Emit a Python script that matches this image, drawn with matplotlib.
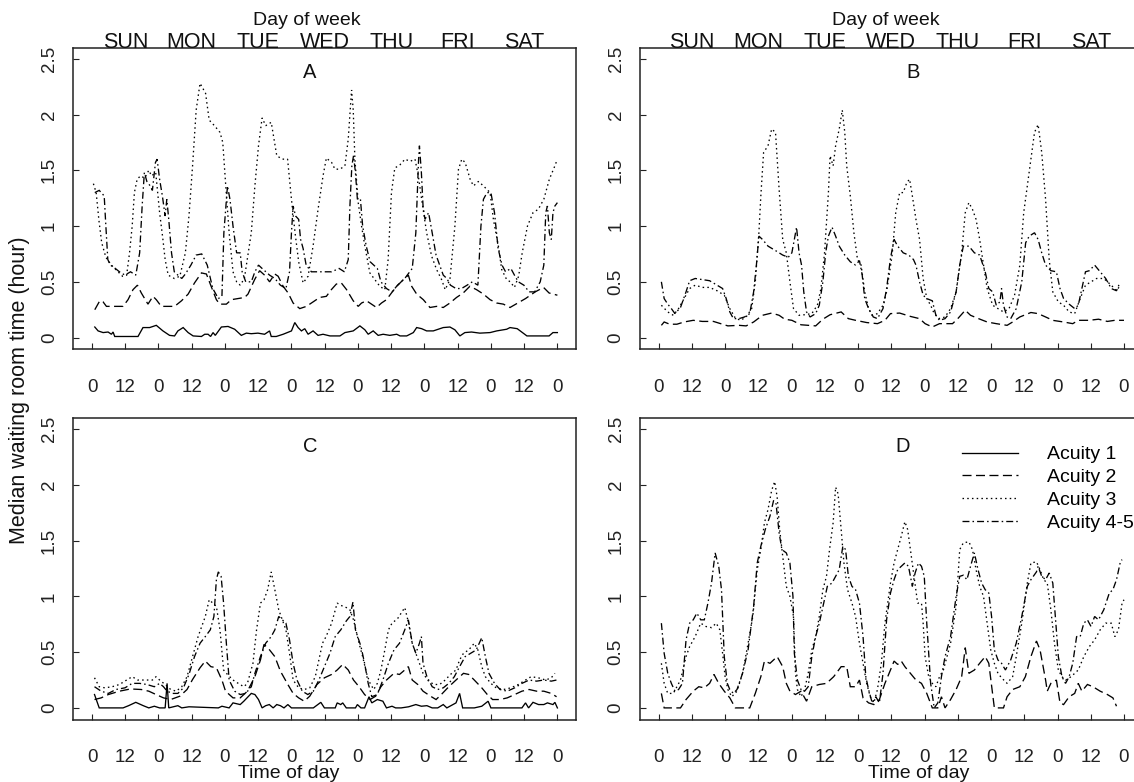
import matplotlib
matplotlib.use("Agg")
import matplotlib.pyplot as plt
from matplotlib.lines import Line2D

plt.rcParams['font.family'] = ['Liberation Sans', 'DejaVu Sans']
plt.rcParams['lines.scale_dashes'] = False

# ---------------- data: (hour of week, median waiting time in hours) ----------------
hour_ticks = list(range(0, 169, 12))
hour_labels = ['0', '12'] * 7 + ['0']
y_ticks = [0, 0.5, 1, 1.5, 2, 2.5]
y_labels = ['0', '0.5', '1', '1.5', '2', '2.5']
days = ['SUN', 'MON', 'TUE', 'WED', 'THU', 'FRI', 'SAT']
day_pos = [12, 36, 60, 84, 108, 132, 156]
series_names = ['Acuity 1', 'Acuity 2', 'Acuity 3', 'Acuity 4-5']

A_acuity1 = [(1.0,0.095),(2.2,0.06),(4.0,0.045),(5.8,0.05),(7.0,0.03),(7.6,0.05),(8.2,0.01),(16.6,0.01),(18.4,0.09),(20.8,0.09),(23.2,0.11),(25.6,0.06),(28.0,0.02),(29.8,0.015),(31.0,0.06),(32.9,0.09),(34.7,0.045),(36.5,0.015),(39.5,0.01),(40.7,0.03),(41.9,0.03),(42.8,0.01),(43.7,0.045),(44.5,0.02),(46.7,0.095),(49.1,0.1),(51.5,0.075),(53.9,0.02),(55.7,0.04),(57.5,0.035),(59.9,0.04),(62.3,0.03),(64.1,0.06),(64.7,0.01),(66.5,0.01),(69.0,0.03),(72.0,0.06),(73.2,0.135),(74.4,0.09),(75.6,0.06),(76.8,0.08),(78.0,0.03),(79.8,0.06),(81.6,0.02),(83.4,0.03),(85.9,0.015),(89.5,0.015),(91.3,0.045),(94.3,0.06),(96.7,0.105),(98.5,0.07),(99.7,0.03),(101.5,0.06),(103.3,0.02),(105.1,0.03),(107.5,0.02),(110.0,0.03),(111.2,0.015),(113.6,0.015),(116.0,0.045),(117.2,0.09),(119.0,0.08),(120.8,0.06),(123.2,0.06),(125.0,0.075),(126.8,0.09),(129.2,0.095),(131.0,0.07),(132.8,0.015),(134.6,0.045),(137.0,0.05),(140.0,0.04),(143.7,0.045),(146.1,0.06),(149.7,0.075),(150.9,0.09),(153.5,0.08),(157.0,0.015),(165.0,0.015),(166.4,0.045),(168.0,0.045)]
A_acuity2 = [(1,0.25),(2.8,0.33),(4,0.32),(5.2,0.28),(8.2,0.28),(11.2,0.28),(13,0.34),(14.8,0.43),(16.4,0.47),(17.8,0.4),(20.2,0.3),(22,0.37),(23.2,0.34),(25,0.28),(29.8,0.28),(32.3,0.33),(34.7,0.39),(37,0.49),(39.5,0.58),(41.3,0.57),(43,0.46),(44.9,0.34),(46.1,0.3),(48.5,0.3),(50.3,0.34),(52.7,0.35),(55.1,0.36),(56.3,0.39),(58.7,0.52),(60.5,0.6),(62.3,0.56),(64.1,0.5),(66,0.57),(67.2,0.55),(69,0.46),(70.8,0.4),(72.6,0.31),(75,0.26),(77.4,0.28),(79.8,0.32),(82.2,0.36),(84.6,0.37),(86.4,0.43),(88.2,0.48),(90,0.49),(91.9,0.43),(94.3,0.33),(96.1,0.28),(97.3,0.31),(99.1,0.33),(100.9,0.3),(102.7,0.27),(104.5,0.31),(106.3,0.34),(108.1,0.4),(110,0.46),(112.4,0.52),(114.2,0.56),(115.4,0.46),(117.2,0.39),(119.6,0.34),(122,0.27),(124.4,0.28),(126.8,0.27),(129.2,0.31),(131.6,0.36),(134,0.4),(136.4,0.46),(138.8,0.43),(141.3,0.39),(143.7,0.34),(146.1,0.31),(148.5,0.3),(150.9,0.27),(153,0.3),(156.5,0.35),(160,0.41),(163,0.45),(165,0.4),(168,0.38)]
A_acuity3 = [(0.5,1.38),(1.5,1.3),(2.5,1.05),(3.5,0.85),(5,0.72),(7,0.65),(9,0.6),(11,0.55),(12.5,0.56),(13.5,0.75),(14.5,1.0),(15.3,1.3),(16.3,1.42),(17.5,1.45),(19,1.43),(20.5,1.5),(21.5,1.45),(23,1.48),(24.4,1.12),(25.5,0.9),(26.4,0.7),(27.5,0.56),(29.7,0.53),(31.7,0.55),(33.7,0.76),(35,1.09),(36.3,1.54),(37.6,2.04),(39,2.28),(41,2.19),(42.3,1.95),(44.2,1.9),(46.2,1.84),(47.2,1.75),(48.2,1.39),(49.5,0.94),(50.9,0.59),(52.2,0.5),(53.5,0.47),(55,0.53),(57.5,0.94),(58.8,1.36),(60.1,1.72),(61.4,1.97),(62.7,1.9),(64.7,1.93),(66.7,1.63),(68.7,1.6),(70.6,1.6),(72,1.24),(73.3,0.94),(74.6,0.68),(76.2,0.49),(78,0.55),(79.8,0.82),(81.6,1.15),(83.4,1.45),(84.6,1.61),(86.5,1.57),(87.7,1.51),(89.5,1.51),(91.3,1.54),(92.5,1.78),(93.7,2.22),(94.3,2.04),(94.9,1.6),(96.1,1.21),(97.3,1.0),(98.5,0.82),(100.3,0.58),(102.1,0.52),(103.9,0.46),(105.7,0.43),(106.9,0.7),(108.1,1.3),(109.3,1.52),(111.2,1.55),(113,1.6),(114.8,1.58),(116.6,1.6),(117.8,1.45),(119,1.24),(120.8,0.94),(122.6,0.73),(124.4,0.61),(126.2,0.52),(127.5,0.43),(129.2,0.52),(131,1.0),(132.3,1.51),(133.5,1.6),(134.7,1.57),(136.5,1.42),(137.7,1.36),(139.5,1.4),(141.3,1.36),(143.7,1.3),(144.9,1.06),(146.7,0.82),(147.9,0.61),(149.7,0.52),(151,0.5),(152.5,0.45),(154,0.55),(155.3,0.76),(157.2,1.0),(159.2,1.12),(161.1,1.15),(163.1,1.24),(165.1,1.42),(167.1,1.54),(168,1.6)]
A_acuity45 = [(1,1.3),(2.6,1.32),(4.4,1.27),(5,1.0),(5.7,0.7),(6.6,0.65),(7.9,0.63),(9.9,0.59),(11.9,0.56),(13.9,0.59),(15.8,0.56),(17.2,0.76),(18.1,1.18),(18.9,1.48),(19.8,1.4),(21,1.36),(21.8,1.32),(22.9,1.57),(23.5,1.6),(24.4,1.42),(25.4,1.27),(26.4,1.09),(27,1.24),(27.7,1.06),(28.7,0.76),(29.7,0.59),(31,0.56),(32.4,0.53),(33.7,0.57),(35.7,0.65),(37.6,0.74),(39.6,0.75),(41.6,0.65),(43.6,0.44),(45.6,0.35),(46.9,0.37),(47.6,0.94),(48.9,1.36),(49.8,1.24),(50.9,1.0),(52.2,0.76),(53.5,0.76),(54.2,0.59),(55.5,0.5),(57.5,0.5),(58.8,0.59),(60.1,0.65),(61.4,0.62),(64.1,0.56),(66,0.53),(68,0.47),(70,0.44),(71.3,0.59),(72,0.94),(72.6,1.18),(73.5,1.09),(74.6,1.06),(75.3,0.88),(76.2,0.8),(77.3,0.65),(79.2,0.59),(82.6,0.59),(86.5,0.59),(89.2,0.62),(91.1,0.59),(92.5,0.7),(93.1,1.18),(93.8,1.54),(94.4,1.63),(95.1,1.48),(95.8,1.24),(96.9,1.24),(97.7,1.0),(99,0.82),(100.4,0.68),(101.7,0.65),(103,0.62),(104.3,0.5),(106.3,0.44),(108.3,0.41),(110.3,0.47),(112.9,0.53),(115.6,0.62),(116.9,0.94),(117.9,1.6),(118.2,1.72),(118.9,1.48),(119.5,1.18),(120.2,1.06),(121.5,1.12),(122.8,0.94),(124.2,0.74),(125.5,0.65),(126.8,0.56),(128.1,0.53),(129.4,0.47),(131.4,0.44),(133.4,0.44),(135.4,0.47),(137.3,0.5),(139.3,0.47),(140.4,1.0),(141.3,1.24),(142.6,1.3),(144,1.3),(145.3,1.12),(146.6,0.8),(148,0.65),(149.3,0.59),(151.2,0.62),(152.5,0.56),(153.9,0.5),(155.9,0.47),(157.8,0.41),(159.8,0.41),(161.8,0.5),(163.1,0.65),(163.8,1.12),(164.4,1.18),(165.1,0.94),(165.8,0.88),(166.4,1.12),(167.1,1.18),(168,1.21)]

B_acuity2 = [(1,0.11),(2,0.14),(4,0.12),(6.6,0.12),(9.2,0.14),(12.5,0.155),(15.8,0.145),(19.8,0.145),(22.4,0.125),(25,0.105),(29,0.11),(31.6,0.105),(34.3,0.14),(37.5,0.2),(40.8,0.22),(43.5,0.2),(45.5,0.165),(48.1,0.155),(51.4,0.115),(56.7,0.105),(59.3,0.165),(61.9,0.205),(65.9,0.23),(68.5,0.17),(71.1,0.155),(75.1,0.135),(79,0.125),(81.7,0.155),(83.7,0.215),(87,0.22),(90.9,0.19),(94.2,0.17),(96.2,0.125),(98.8,0.095),(101.4,0.125),(106.1,0.125),(108,0.17),(110.7,0.245),(112.6,0.2),(116,0.165),(118.6,0.14),(121.9,0.125),(125.8,0.11),(127.8,0.14),(130.4,0.185),(134.4,0.225),(137,0.215),(139.7,0.185),(141,0.17),(142.2,0.155),(146.2,0.14),(149.5,0.125),(151.5,0.155),(155.5,0.155),(158.8,0.165),(162,0.145),(164.7,0.155),(168,0.155)]
B_acuity3 = [(1,0.29),(3.3,0.23),(5.3,0.2),(7.2,0.26),(9.2,0.35),(11.2,0.44),(13.2,0.47),(15.8,0.45),(18.4,0.45),(21.1,0.42),(23.7,0.38),(25.7,0.26),(27.7,0.175),(29.6,0.155),(31.6,0.185),(33.6,0.26),(34.9,0.5),(36.2,0.94),(36.9,1.27),(37.9,1.66),(39.5,1.72),(40.8,1.87),(42.2,1.84),(43.5,1.33),(44.8,0.88),(46.1,0.76),(47.4,0.5),(48.7,0.26),(50.7,0.2),(52.7,0.205),(55.3,0.215),(57.3,0.29),(58.6,0.44),(59.9,0.76),(61.3,1.3),(61.9,1.63),(63,1.54),(63.9,1.72),(65.2,1.87),(66.3,2.04),(67.2,1.84),(67.9,1.54),(69.2,1.27),(70.5,0.94),(71.8,0.7),(73.1,0.65),(74.4,0.41),(75.8,0.26),(77.1,0.2),(79,0.215),(81,0.29),(82.3,0.41),(84.3,0.74),(85.6,1.12),(87,1.3),(88.3,1.3),(89.6,1.39),(90.6,1.42),(91.6,1.27),(92.9,1.06),(94.2,0.88),(95.5,0.53),(96.8,0.35),(98.2,0.29),(99.5,0.215),(101.4,0.17),(103.4,0.185),(105.4,0.26),(107.4,0.41),(109.4,0.76),(110.7,1.12),(112,1.21),(113.3,1.15),(114.6,1.06),(115.9,0.88),(117.3,0.65),(118.6,0.44),(120.6,0.29),(122.5,0.26),(124.5,0.23),(126.5,0.26),(128.5,0.38),(130.4,0.65),(131.8,1.12),(133.1,1.36),(134.4,1.6),(135.7,1.84),(137,1.91),(138.3,1.66),(139.7,1.24),(141,0.7),(142.3,0.41),(144.3,0.32),(146.2,0.29),(148.2,0.23),(150.2,0.215),(152.2,0.35),(154.1,0.47),(156.1,0.5),(158.1,0.53),(160.7,0.53),(163.4,0.47),(165.3,0.42),(166.7,0.47)]
B_acuity45 = [(1,0.5),(2,0.35),(3.3,0.3),(4.6,0.26),(5.9,0.215),(7.9,0.27),(9.9,0.41),(11.2,0.51),(13.2,0.53),(15.8,0.52),(18.4,0.51),(21.1,0.47),(23.1,0.44),(24.4,0.35),(25.7,0.23),(27,0.17),(29,0.17),(31,0.185),(32.9,0.215),(34.3,0.41),(35.3,0.65),(36.2,0.91),(37.5,0.88),(39.5,0.82),(42.2,0.78),(44.8,0.74),(46.8,0.72),(48.1,0.76),(49,0.88),(49.8,0.99),(50.7,0.76),(51.6,0.65),(52.4,0.41),(53.4,0.23),(54.7,0.185),(56.7,0.215),(58,0.29),(59.3,0.5),(60.3,0.76),(61.3,0.91),(62.6,0.99),(63.9,0.91),(65.2,0.82),(67.2,0.74),(69.2,0.68),(71.1,0.65),(72.5,0.69),(73.5,0.56),(74.4,0.35),(75.8,0.26),(77.5,0.185),(79,0.17),(81,0.26),(82.3,0.44),(83.7,0.71),(85,0.88),(86.3,0.82),(88.3,0.76),(90.3,0.74),(92,0.7),(92.9,0.65),(94.2,0.5),(95.5,0.38),(96.8,0.35),(98.8,0.33),(100.1,0.2),(101.4,0.155),(103.4,0.17),(105.4,0.23),(107.4,0.41),(108.7,0.65),(110,0.82),(112,0.82),(114,0.76),(115.9,0.74),(117.9,0.59),(119.2,0.44),(120.6,0.41),(121.9,0.29),(123.2,0.32),(123.8,0.44),(124.5,0.29),(125.8,0.185),(127.1,0.17),(129.1,0.26),(131.1,0.5),(132.5,0.85),(133.8,0.91),(135.7,0.94),(137,0.88),(138.3,0.76),(139.7,0.65),(141.6,0.6),(143.6,0.59),(144.9,0.44),(146.2,0.35),(148.2,0.3),(150.2,0.26),(151.5,0.29),(152.8,0.44),(154.1,0.59),(155.5,0.6),(157.4,0.65),(159.4,0.59),(161.4,0.53),(163.4,0.44),(165.3,0.42),(166.3,0.48)]

C_acuity1 = [(0.9,0.12),(2.6,0.0),(11.2,0.0),(13.2,0.02),(15.8,0.05),(18.5,0.02),(20.5,0.0),(22.5,0.015),(24.4,0.0),(26.4,0.0),(27.1,0.22),(27.7,0.0),(31.0,0.02),(32.4,0.0),(35,0.01),(45.6,0.0),(46.9,0.015),(49.5,0.0),(50.9,0.045),(53.5,0.03),(54.8,0.06),(57.5,0.13),(58.8,0.12),(60.1,0.075),(61.4,0.0),(62.7,0.02),(64.0,0.03),(65.4,0.0),(66.7,0.03),(68.0,0.02),(69.3,0.0),(70.7,0.03),(72.0,0.0),(79.9,0.0),(82.6,0.05),(83.9,0.0),(87.8,0.0),(88.5,0.045),(89.8,0.03),(90.5,0.045),(91.8,0.0),(95.1,0.0),(95.8,0.03),(97.1,0.0),(98.4,0.0),(100.0,0.1),(101.0,0.045),(103.0,0.075),(105.0,0.06),(106.3,0.0),(108.3,0.015),(109.6,0.0),(111.6,0.0),(114.3,0.01),(116.9,0.03),(118.9,0.015),(120.9,0.02),(122.8,0.0),(124.8,0.0),(126.8,0.03),(128.1,0.0),(131.4,0.045),(132.7,0.13),(133.8,0.0),(138.0,0.0),(140.7,0.015),(143.0,0.06),(144.0,0.0),(155.2,0.0),(156.5,0.045),(157.6,0.0),(159.2,0.05),(161.2,0.03),(163.1,0.03),(164.4,0.045),(166.4,0.03),(167.1,0.05),(168.0,0.0)]
C_acuity2 = [(0.9,0.075),(3.3,0.09),(5.9,0.12),(9.9,0.15),(13.9,0.17),(17.8,0.165),(20.5,0.15),(23.1,0.12),(25.8,0.09),(28.4,0.075),(31.7,0.105),(34.3,0.165),(36.3,0.255),(39,0.36),(40.9,0.42),(42.9,0.37),(44.9,0.36),(46.9,0.25),(48.2,0.15),(50.9,0.09),(53.5,0.09),(56.1,0.15),(58.8,0.28),(60.8,0.43),(62.1,0.57),(64.1,0.52),(66,0.46),(68,0.33),(70.7,0.21),(72.6,0.13),(74.6,0.09),(76.6,0.06),(78.6,0.105),(81.2,0.21),(83.9,0.27),(86.5,0.3),(88.5,0.34),(90.5,0.39),(92.5,0.34),(94.4,0.25),(96.4,0.19),(98.4,0.12),(100.4,0.075),(102.4,0.105),(104.3,0.19),(106.3,0.25),(109,0.31),(111,0.3),(112.9,0.34),(114.2,0.37),(115.6,0.25),(117.6,0.21),(119.5,0.15),(122.2,0.105),(124.2,0.075),(126.1,0.12),(128.8,0.19),(131.4,0.25),(134.1,0.31),(136,0.3),(138,0.25),(140.7,0.18),(142.7,0.12),(144.6,0.075),(147.3,0.075),(149.9,0.09),(152.6,0.12),(155.2,0.15),(157.8,0.165),(160.5,0.15),(163.1,0.15),(165.8,0.13),(167.7,0.1)]
C_acuity3 = [(0.9,0.27),(2.6,0.19),(4.6,0.18),(7.3,0.19),(9.9,0.21),(12.5,0.25),(14.5,0.28),(16.5,0.25),(19.2,0.25),(21.8,0.25),(23.1,0.28),(24.4,0.25),(26.4,0.21),(28.4,0.165),(30.4,0.15),(32.4,0.19),(34.3,0.28),(36.3,0.46),(38.3,0.64),(39.6,0.73),(40.9,0.82),(42.3,0.97),(43.6,0.94),(44.9,0.91),(46.2,0.7),(47.5,0.34),(48.9,0.3),(50.9,0.25),(52.8,0.22),(54.8,0.19),(56.1,0.22),(58.1,0.4),(59.4,0.7),(60.8,0.94),(62.1,0.97),(63.4,1.06),(64.7,1.22),(66,1.06),(67.4,0.88),(68.7,0.79),(70,0.7),(71.3,0.49),(72.6,0.25),(74.6,0.18),(76.6,0.165),(78.6,0.18),(80.6,0.28),(81.9,0.43),(83.2,0.58),(84.5,0.64),(86.5,0.76),(88.5,0.94),(89.8,0.92),(91.8,0.9),(93.1,0.88),(94.4,0.79),(96.4,0.58),(97.7,0.46),(99.1,0.31),(100.4,0.22),(101.7,0.165),(103,0.22),(104.3,0.34),(105.7,0.52),(107,0.7),(108.3,0.76),(110.3,0.8),(111.6,0.85),(112.9,0.9),(114.3,0.76),(115.6,0.58),(116.9,0.49),(118.2,0.4),(119.5,0.31),(121.5,0.24),(123.5,0.21),(125.5,0.21),(127.5,0.25),(129.4,0.3),(131.4,0.34),(132.7,0.43),(134.1,0.49),(136,0.52),(138,0.58),(139.3,0.52),(140.7,0.37),(142,0.28),(144,0.22),(145.9,0.18),(148.6,0.165),(151.2,0.18),(153.9,0.21),(156.5,0.25),(158.5,0.28),(161.1,0.27),(163.8,0.25),(165.8,0.27),(167.1,0.31)]
C_acuity45 = [(0.9,0.19),(3.3,0.15),(5.9,0.13),(8.6,0.165),(11.9,0.18),(14.5,0.22),(17.2,0.22),(19.8,0.21),(22.5,0.19),(24.4,0.22),(25.8,0.19),(27.1,0.15),(29.1,0.13),(31,0.13),(33,0.18),(35,0.3),(37,0.46),(39,0.58),(40.9,0.64),(42.7,0.7),(44,0.82),(44.9,1.15),(45.6,1.22),(46.6,1.18),(47.5,0.94),(48.5,0.58),(49.5,0.25),(51.5,0.15),(53.5,0.12),(55.5,0.13),(57.5,0.19),(58.8,0.31),(60.8,0.46),(62.7,0.58),(64.7,0.64),(66,0.7),(67.4,0.82),(68.7,0.79),(70,0.76),(71.3,0.61),(72.6,0.4),(74,0.25),(75.9,0.15),(77.9,0.12),(79.9,0.15),(81.9,0.25),(83.9,0.37),(85.9,0.49),(87.8,0.64),(89.8,0.7),(91.8,0.78),(93.1,0.82),(94.2,0.95),(95.1,0.7),(97.1,0.55),(98.4,0.4),(99.7,0.22),(101,0.1),(103,0.12),(105,0.25),(107,0.4),(109,0.52),(111,0.58),(112.9,0.7),(114.2,0.79),(115.6,0.58),(116.9,0.49),(118.2,0.58),(118.9,0.64),(119.5,0.4),(120.9,0.28),(122.8,0.19),(124.8,0.165),(126.8,0.18),(128.8,0.22),(130.8,0.28),(132.7,0.37),(134.7,0.46),(136.7,0.49),(138.7,0.52),(140.7,0.63),(142,0.46),(143.3,0.31),(145.3,0.22),(147.3,0.165),(149.9,0.15),(152.6,0.18),(155.2,0.22),(157.8,0.25),(160.5,0.24),(163.1,0.25),(165.8,0.24),(167.7,0.25)]

D_acuity2 = [(1,0.13),(2,0.0),(7.9,0.0),(9.9,0.075),(12.5,0.15),(14.5,0.19),(16.5,0.18),(18.4,0.22),(20,0.3),(21.7,0.22),(23.7,0.15),(25.7,0.09),(27.7,0.0),(32.9,0.0),(34.9,0.13),(36.9,0.28),(38.2,0.42),(40.2,0.4),(42.8,0.46),(44.8,0.37),(46.1,0.22),(47.4,0.15),(49.4,0.12),(51.4,0.15),(53.4,0.06),(55.3,0.19),(58,0.21),(60.6,0.22),(63.2,0.28),(65.9,0.37),(67.9,0.37),(69.2,0.19),(71.1,0.19),(72.5,0.25),(73.8,0.09),(75.8,0.045),(77.7,0.03),(79.7,0.075),(81.7,0.22),(83.7,0.34),(85,0.42),(86.3,0.39),(87.6,0.42),(88.9,0.37),(90.9,0.31),(92.9,0.25),(94.9,0.22),(96.8,0.13),(98.8,0.0),(100.8,0.0),(102.1,0.1),(103.4,0.0),(105.4,0.075),(107.4,0.165),(109.4,0.28),(110.7,0.54),(112,0.31),(114,0.34),(115.9,0.4),(117.9,0.46),(119.2,0.4),(121.2,0.0),(124.5,0.0),(125.8,0.1),(127.8,0.165),(130.4,0.19),(132.4,0.28),(134.4,0.46),(136.4,0.6),(137.7,0.52),(139.7,0.25),(140.3,0.15),(141.6,0.22),(143.6,0.25),(144.9,0.045),(146.2,0.03),(148.2,0.1),(150.2,0.13),(151.5,0.22),(152.8,0.15),(154.8,0.21),(156.8,0.19),(159.4,0.15),(162,0.12),(164,0.09),(165.3,0.015)]
D_acuity3 = [(1,0.4),(2,0.22),(3.3,0.13),(5.3,0.13),(6.6,0.19),(7.9,0.25),(9.9,0.46),(11.2,0.55),(13.2,0.64),(15.2,0.76),(17.1,0.73),(19.1,0.72),(20.8,0.76),(22.1,0.7),(23.1,0.49),(24,0.28),(25,0.165),(26.4,0.1),(28.3,0.15),(30.3,0.31),(32.3,0.58),(34,0.82),(35.6,1.24),(36.9,1.42),(38.2,1.66),(39.5,1.78),(40.8,1.95),(41.9,2.03),(42.8,1.89),(43.7,1.6),(44.8,1.36),(46.1,1.09),(47.4,1.0),(48.7,0.82),(49.4,0.31),(50.1,0.165),(51.4,0.1),(52.7,0.165),(54,0.31),(55.3,0.52),(56.7,0.64),(58,0.82),(59.3,1.06),(60.6,1.18),(61.7,1.42),(63,1.66),(63.9,1.98),(64.8,1.92),(65.9,1.6),(66.9,1.3),(68.2,1.06),(69.8,0.94),(71.1,0.82),(72.5,0.58),(73.8,0.4),(75.1,0.22),(76.4,0.1),(77.7,0.045),(79,0.165),(80.4,0.4),(81.7,0.76),(83.7,1.12),(85,1.3),(86.3,1.42),(87.6,1.54),(88.9,1.67),(89.9,1.6),(90.9,1.42),(92.2,1.18),(93.5,0.94),(94.9,0.94),(95.5,0.76),(96.2,0.46),(97.5,0.28),(98.8,0.22),(100.1,0.19),(101.4,0.28),(102.8,0.34),(104.1,0.46),(105.4,0.58),(107.4,0.91),(108.7,1.42),(110,1.48),(112,1.49),(113.3,1.42),(114.6,1.24),(115.9,1.09),(117.3,1.0),(118.6,0.76),(119.9,0.52),(121.2,0.4),(122.5,0.31),(123.8,0.27),(125.8,0.22),(127.8,0.28),(129.1,0.46),(131.1,0.76),(133.1,1.12),(134.4,1.3),(136.4,1.31),(137.7,1.24),(139,1.15),(140.3,1.12),(141.6,0.88),(142.9,0.58),(144.3,0.34),(145.6,0.28),(146.9,0.25),(148.9,0.28),(151.5,0.34),(153.5,0.46),(155.5,0.55),(157.4,0.61),(159.4,0.7),(161.4,0.76),(163.4,0.76),(164.7,0.64),(166,0.7),(167.3,0.94),(168,0.97)]
D_acuity45 = [(1,0.76),(2,0.49),(3.3,0.31),(4.6,0.22),(5.9,0.15),(7.2,0.165),(8.6,0.22),(9.9,0.61),(11.2,0.76),(12.5,0.79),(13.8,0.85),(15.2,0.79),(16.5,0.79),(17.8,0.94),(19.1,1.12),(20.4,1.39),(21.7,1.27),(22.7,1.06),(23.7,0.46),(24.8,0.22),(25.7,0.165),(27,0.13),(28.3,0.165),(30.3,0.31),(32.3,0.52),(34.3,0.91),(35.6,1.3),(36.9,1.45),(38.5,1.6),(40.2,1.72),(41.5,1.86),(42.4,1.83),(43.5,1.57),(44.5,1.42),(46.1,1.39),(47.4,1.3),(48.5,1.0),(49,0.49),(50.1,0.25),(51.4,0.165),(52.7,0.15),(54,0.19),(55.3,0.46),(56.7,0.64),(58,0.76),(59.6,0.94),(60.9,1.09),(62.6,1.12),(63.9,1.18),(65.2,1.24),(66.5,1.45),(67.5,1.42),(68.5,1.18),(69.8,1.09),(71.1,1.06),(72.5,0.94),(73.8,0.64),(74.8,0.28),(75.8,0.165),(77.1,0.045),(78.4,0.1),(79.7,0.045),(81,0.31),(82.3,0.79),(83.7,1.03),(85,1.15),(86.3,1.24),(87.6,1.27),(88.9,1.3),(90.2,1.27),(91.6,1.09),(92.6,1.21),(93.8,1.3),(94.9,1.27),(95.9,1.18),(96.8,0.76),(98.2,0.22),(99.5,0.0),(100.8,0.045),(102.1,0.28),(103.4,0.46),(105.4,0.64),(107.4,1.0),(108.7,1.18),(110,1.19),(111.3,1.15),(112.6,1.27),(114,1.39),(115.3,1.24),(116.6,1.12),(117.9,1.06),(119.2,1.03),(120.2,0.82),(121.2,0.52),(122.5,0.43),(123.8,0.4),(125.2,0.34),(127.1,0.43),(129.1,0.58),(131.1,0.82),(133.1,1.09),(134.4,1.15),(136.4,1.22),(137,1.27),(138.3,1.18),(139.7,1.15),(141,1.21),(142.3,1.12),(143.4,0.76),(144.3,0.46),(145.6,0.28),(146.9,0.22),(148.2,0.28),(149.5,0.4),(150.9,0.64),(152.2,0.64),(153.5,0.76),(154.8,0.79),(156.1,0.73),(157.4,0.82),(158.8,0.79),(160.7,0.88),(162.7,1.03),(164,1.06),(165.3,1.15),(166.7,1.31),(167.3,1.33)]

panels = {
    'A': {'Acuity 1': A_acuity1, 'Acuity 2': A_acuity2, 'Acuity 3': A_acuity3, 'Acuity 4-5': A_acuity45},
    'B': {'Acuity 2': B_acuity2, 'Acuity 3': B_acuity3, 'Acuity 4-5': B_acuity45},
    'C': {'Acuity 1': C_acuity1, 'Acuity 2': C_acuity2, 'Acuity 3': C_acuity3, 'Acuity 4-5': C_acuity45},
    'D': {'Acuity 2': D_acuity2, 'Acuity 3': D_acuity3, 'Acuity 4-5': D_acuity45},
}

# ---------------- styling / layout ----------------
line_styles = {
    'Acuity 1': '-',
    'Acuity 2': (0, (6.5, 3.2)),
    'Acuity 3': (0, (1.1, 2.3)),
    'Acuity 4-5': (0, (5.0, 2.2, 1.1, 2.2)),
}
LW = 0.95
W, H = 1134, 782
fig = plt.figure(figsize=(W / 100, H / 100), dpi=100)

def add_axes_px(left, top, right, bottom):
    return fig.add_axes([left / W, 1 - bottom / H, (right - left) / W, (bottom - top) / H])

boxes = {
    'A': (73.4, 47.6, 576.0, 349.2),
    'B': (640.0, 47.6, 1142.6, 349.2),
    'C': (73.4, 418.0, 576.0, 719.5),
    'D': (640.0, 418.0, 1142.6, 719.5),
}
letter_pos = {'A': (78.7, 2.38), 'B': (91.8, 2.38), 'C': (78.7, 2.34), 'D': (88.2, 2.34)}
dow_title_x = {'A': 77.6, 'B': 82.0}
tod_x = {'C': 71.0, 'D': 94.0}

axes = {}
for name, box in boxes.items():
    ax = add_axes_px(*box)
    axes[name] = ax
    for label, pts in panels[name].items():
        hrs = [p[0] for p in pts]
        vals = [p[1] for p in pts]
        ax.plot(hrs, vals, color='black', lw=LW, ls=line_styles[label],
                solid_joinstyle='miter', dash_joinstyle='miter')
    ax.set_xlim(-6.72, 174.72)
    ax.set_ylim(-0.104, 2.60)
    ax.set_xticks(hour_ticks)
    ax.set_xticklabels(hour_labels)
    ax.set_yticks(y_ticks)
    ax.set_yticklabels(y_labels)
    ax.tick_params(direction='in', length=4, width=0.8, labelsize=13.5, colors='#222222')
    ax.tick_params(axis='x', pad=21.5)
    ax.tick_params(axis='y', pad=11, labelrotation=90)
    for t in ax.get_yticklabels():
        t.set_va('center')
    for sp in ax.spines.values():
        sp.set_linewidth(1.1)
        sp.set_color('#222222')
    lx, ly = letter_pos[name]
    ax.text(lx, ly, name, ha='center', va='center', fontsize=14.5, color='#111111')

    trans = ax.get_xaxis_transform()
    if name in ('A', 'B'):
        for d, xpos in zip(days, day_pos):
            ax.text(xpos, 1.0, d, transform=trans, ha='center', va='baseline',
                    fontsize=15.5, color='#111111')
        ax.text(dow_title_x[name], 1.0 + 22.6 / 301.6, 'Day of week', transform=trans,
                ha='center', va='baseline', fontsize=14, color='#111111')
    else:
        ax.text(tod_x[name], -53.5 / 301.5, 'Time of day', transform=trans,
                ha='center', va='center', fontsize=14, color='#111111')

# legend in panel D
handles = [Line2D([], [], color='black', lw=LW, ls=line_styles[n]) for n in series_names]
axes['D'].legend(handles, series_names, loc='upper left', bbox_to_anchor=(0.6407, 0.908),
                 frameon=False, handlelength=2.9, handletextpad=1.45, labelspacing=0.27,
                 borderpad=0, borderaxespad=0, fontsize=14)

fig.text(20 / W, 1 - 390 / H, 'Median waiting room time (hour)', rotation=90,
         ha='center', va='center', fontsize=15.5, color='#111111')

fig.savefig('out.png', dpi=100, facecolor='white')
